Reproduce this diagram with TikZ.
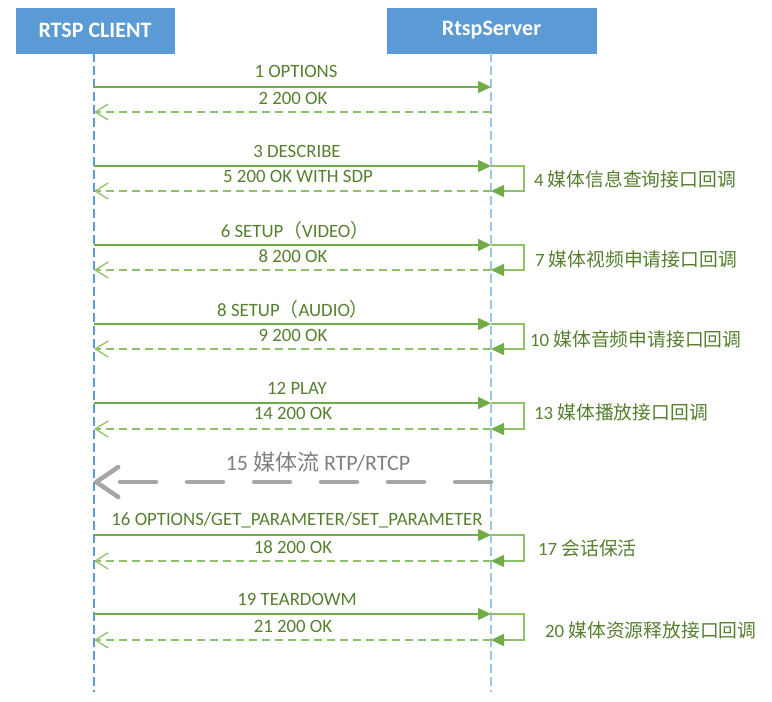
\documentclass[tikz,border=0pt]{standalone}
\usepackage{fontspec}
\setmainfont{Carlito}
\newfontfamily\cjk{Noto Sans CJK SC}
\usetikzlibrary{arrows.meta}
\definecolor{boxblue}{HTML}{5B9BD5}
\definecolor{lifeA}{HTML}{5B9BD5}
\definecolor{lifeB}{HTML}{9DC3E6}
\definecolor{fwd}{HTML}{70AD47}
\definecolor{ret}{HTML}{8FC16A}
\definecolor{txtgreen}{HTML}{55802F}
\definecolor{streamgray}{HTML}{A6A6A6}
\definecolor{streamtxt}{HTML}{808080}
\begin{document}
\begin{tikzpicture}[x=1pt,y=-1pt,
  actor/.style={fill=boxblue,draw=boxblue, minimum height=45pt, text=white,
    font=\fontsize{22}{24}\selectfont\bfseries, inner sep=0pt},
  lifeline/.style={line width=1.2pt, dash pattern=on 9pt off 4pt},
  fwdmsg/.style={draw=fwd, line width=1.4pt, -{Triangle[length=13pt,width=12pt]}},
  retmsg/.style={draw=ret, line width=1.3pt, dash pattern=on 8pt off 5pt,
    -{Straight Barb[length=13pt,width=16pt]}},
  loopmsg/.style={draw=ret, line width=1.2pt, -{Triangle[length=13pt,width=12pt,color=fwd]}},
  msglabel/.style={text=txtgreen, font=\fontsize{18.8}{20}\selectfont, inner sep=0pt},
  sidelabel/.style={msglabel, anchor=west},
  stream/.style={draw=streamgray, line width=4.5pt, line cap=round, dash pattern=on 36pt off 31pt,
    -{Straight Barb[length=22pt,width=30pt,round]}},
  streamlabel/.style={text=streamtxt, font=\fontsize{22}{24}\selectfont, inner sep=0pt}
]
\useasboundingbox (0,0) rectangle (772,702);

\node[actor, minimum width=158pt] (client) at (95,30.5) {RTSP CLIENT};
\node[actor, minimum width=209pt] (server) at (491.5,30.5) {RtspServer};

\coordinate (clientEnd) at (94,692);
\coordinate (serverEnd) at (491,692);
\draw[lifeline, draw=lifeA] (client.south -| clientEnd) -- (clientEnd);
\draw[lifeline, draw=lifeB] (server.south -| serverEnd) -- (serverEnd);

\foreach \n/\ya/\yb in {1/87/112, 2/166/191, 3/245/270, 4/324/349, 5/403/429, 6/535/561, 7/614/640}{
  \coordinate (ca\n) at (94,\ya);
  \coordinate (sa\n) at (491,\ya);
  \coordinate (cb\n) at (94,\yb);
  \coordinate (sb\n) at (491,\yb);
  \draw[fwdmsg] (ca\n) -- (sa\n);
  \draw[retmsg] (sb\n) -- (cb\n);
}
\foreach \n in {2,3,4,5,6,7}{
  \draw[loopmsg] (sa\n) -- ++(33,0) |- (sb\n);
}

% forward labels
\node[msglabel] (f1) at (296,71) {1 OPTIONS};
\node[msglabel] (f2) at (297,151) {3 DESCRIBE};
\node[msglabel] (f3) at (295,230) {6 SETUP{\cjk （}VIDEO{\cjk ）}};
\node[msglabel] (f4) at (293,309) {8 SETUP{\cjk （}AUDIO{\cjk ）}};
\node[msglabel] (f5) at (297,388) {12 PLAY};
\node[msglabel] (f6) at (297,520) {16 OPTIONS/GET\_PARAMETER/SET\_PARAMETER};
\node[msglabel] (f7) at (297,599) {19 TEARDOWM};

% return labels
\node[msglabel] (r1) at (293,98) {2 200 OK};
\node[msglabel] (r2) at (298,176) {5 200 OK WITH SDP};
\node[msglabel] (r3) at (293,256) {8 200 OK};
\node[msglabel] (r4) at (293,335) {9 200 OK};
\node[msglabel] (r5) at (293,413) {14 200 OK};
\node[msglabel] (r6) at (293,547) {18 200 OK};
\node[msglabel] (r7) at (293,626) {21 200 OK};

% side labels
\node[sidelabel] (l2) at (534,179) {4 {\cjk 媒体信息查询接口回调}};
\node[sidelabel] (l3) at (535,259) {7 {\cjk 媒体视频申请接口回调}};
\node[sidelabel] (l4) at (530,339) {10 {\cjk 媒体音频申请接口回调}};
\node[sidelabel] (l5) at (534,412) {13 {\cjk 媒体播放接口回调}};
\node[sidelabel] (l6) at (538,548) {17 {\cjk 会话保活}};
\node[sidelabel] (l7) at (545,630) {20 {\cjk 媒体资源释放接口回调}};

% media stream
\coordinate (sS) at (491,482);
\coordinate (cS) at (94,482);
\draw[stream] (sS) -- (cS);
\node[streamlabel] (stream) at (318,462) {15 {\cjk 媒体流} RTP/RTCP};
\end{tikzpicture}
\end{document}
